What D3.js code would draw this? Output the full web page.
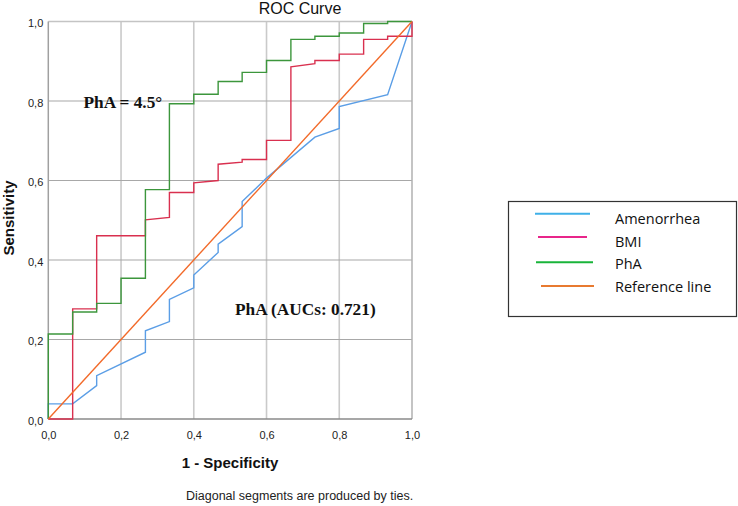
<!DOCTYPE html>
<html><head><meta charset="utf-8">
<script src="https://cdn.jsdelivr.net/npm/d3@7"></script>
<style>body{margin:0;background:#fff}svg{display:block}</style>
</head><body>
<script>
// ---- data ----
const xTicks = [0, 0.2, 0.4, 0.6, 0.8, 1.0];
const yTicks = [0, 0.2, 0.4, 0.6, 0.8, 1.0];
const seriesNames = ["Amenorrhea", "BMI", "PhA", "Reference line"];
const amenorrheaPts = [[0,0],[0,0.038],[0.067,0.038],[0.133,0.084],[0.133,0.109],[0.267,0.168],[0.267,0.222],[0.333,0.245],[0.333,0.301],[0.4,0.330],[0.4,0.362],[0.467,0.419],[0.467,0.440],[0.533,0.484],[0.533,0.547],[0.6,0.606],[0.733,0.709],[0.8,0.731],[0.8,0.786],[0.933,0.816],[1,1]];
const bmiPts = [[0,0],[0.067,0],[0.067,0.277],[0.133,0.277],[0.133,0.461],[0.267,0.461],[0.267,0.501],[0.333,0.507],[0.333,0.570],[0.4,0.570],[0.4,0.594],[0.467,0.600],[0.467,0.641],[0.533,0.646],[0.533,0.653],[0.6,0.653],[0.6,0.701],[0.667,0.701],[0.667,0.886],[0.733,0.894],[0.733,0.902],[0.8,0.902],[0.8,0.918],[0.867,0.918],[0.867,0.955],[0.933,0.955],[0.933,0.963],[1,0.963],[1,1]];
const phaPts = [[0,0],[0,0.214],[0.067,0.214],[0.067,0.269],[0.133,0.269],[0.133,0.291],[0.2,0.291],[0.2,0.354],[0.267,0.354],[0.267,0.577],[0.333,0.577],[0.333,0.793],[0.4,0.793],[0.4,0.817],[0.467,0.817],[0.467,0.849],[0.533,0.849],[0.533,0.872],[0.6,0.872],[0.6,0.902],[0.667,0.902],[0.667,0.955],[0.733,0.955],[0.733,0.963],[0.8,0.963],[0.8,0.971],[0.867,0.971],[0.867,0.995],[0.933,0.995],[0.933,1],[1,1]];
const referencePts = [[0,0],[1,1]];
const lineColors = ["#5b9ee6", "#d9304f", "#3c963c", "#f26a2a"];
const legendColors = ["#3fb0e8", "#e8258a", "#19b43a", "#e87a30"];

// ---- chart ----
const W = 738, H = 506;
const svg = d3.select("body").append("svg").attr("width", W).attr("height", H);
const x = d3.scaleLinear().domain([0, 1]).range([48.3, 412]);
const y = d3.scaleLinear().domain([0, 1]).range([419, 21.5]);
const sans = "'Liberation Sans', Arial, sans-serif";
const serif = "'Liberation Serif', 'Times New Roman', serif";

// grid
svg.append("g").selectAll("line").data(xTicks.slice(1, 5)).join("line")
  .attr("x1", d => x(d)).attr("x2", d => x(d)).attr("y1", y(0)).attr("y2", y(1))
  .attr("stroke", "#cacaca").attr("stroke-width", 1.6);
svg.append("g").selectAll("line").data(yTicks.slice(1, 5)).join("line")
  .attr("x1", x(0)).attr("x2", x(1)).attr("y1", d => y(d)).attr("y2", d => y(d))
  .attr("stroke", "#a8a8a8").attr("stroke-width", 1.2);
// frame
svg.append("line").attr("x1", x(0)).attr("x2", x(1)).attr("y1", y(1)).attr("y2", y(1)).attr("stroke", "#c4c4c4").attr("stroke-width", 1.5);
svg.append("line").attr("x1", x(1)).attr("x2", x(1)).attr("y1", y(0)).attr("y2", y(1)).attr("stroke", "#b0b0b0").attr("stroke-width", 1.5);
svg.append("line").attr("x1", x(0)).attr("x2", x(0)).attr("y1", y(0)).attr("y2", y(1)).attr("stroke", "#a0a0a0").attr("stroke-width", 1.5);
svg.append("line").attr("x1", x(0)).attr("x2", x(1)).attr("y1", y(0)).attr("y2", y(0)).attr("stroke", "#8a8a8a").attr("stroke-width", 1.5);

// axes labels via d3 axes (no domain/ticks)
const fmt = d => d3.format(".1f")(d).replace(".", ",");
const xAxis = svg.append("g").attr("transform", `translate(0,${y(0)})`)
  .call(d3.axisBottom(x).tickValues(xTicks).tickFormat(fmt).tickSize(0).tickPadding(12));
xAxis.select(".domain").remove();
xAxis.selectAll("text").attr("font-family", sans).attr("font-size", 11).attr("fill", "#222");
const yAxis = svg.append("g").attr("transform", `translate(${x(0)},0)`)
  .call(d3.axisLeft(y).tickValues(yTicks).tickFormat(fmt).tickSize(0).tickPadding(5));
yAxis.select(".domain").remove();
yAxis.selectAll("text").attr("font-family", sans).attr("font-size", 11).attr("fill", "#222").attr("dy", "0.85em").attr("y", -4);

// curves
const line = d3.line().x(d => x(d[0])).y(d => y(d[1]));
const allSeries = [amenorrheaPts, bmiPts, phaPts, referencePts];
svg.append("g").selectAll("path").data(allSeries).join("path")
  .attr("d", line).attr("fill", "none")
  .attr("stroke", (d, i) => lineColors[i]).attr("stroke-width", 1.4);

// titles
svg.append("text").attr("x", 300).attr("y", 13.5).attr("text-anchor", "middle")
  .attr("font-family", sans).attr("font-size", 16).attr("fill", "#111").text("ROC Curve");
svg.append("text").attr("x", 230).attr("y", 468).attr("text-anchor", "middle")
  .attr("font-family", sans).attr("font-size", 15).attr("font-weight", "bold").attr("fill", "#111").text("1 - Specificity");
svg.append("text").attr("transform", "translate(13.5,218) rotate(-90)").attr("text-anchor", "middle")
  .attr("font-family", sans).attr("font-size", 15).attr("font-weight", "bold").attr("fill", "#111").text("Sensitivity");
svg.append("text").attr("x", 186).attr("y", 500)
  .attr("font-family", sans).attr("font-size", 12.5).attr("fill", "#222").text("Diagonal segments are produced by ties.");

// annotations
svg.append("text").attr("x", 83.5).attr("y", 108.3)
  .attr("font-family", serif).attr("font-size", 17.3).attr("font-weight", "bold").attr("fill", "#111").text("PhA = 4.5°");
svg.append("text").attr("x", 235).attr("y", 315)
  .attr("font-family", serif).attr("font-size", 17.3).attr("font-weight", "bold").attr("fill", "#111").text("PhA (AUCs: 0.721)");

// legend
const lg = svg.append("g");
lg.append("rect").attr("x", 508.5).attr("y", 201.5).attr("width", 228).attr("height", 115)
  .attr("fill", "#fff").attr("stroke", "#333").attr("stroke-width", 1.2);
const lineY = [213.7, 237, 262.3, 286];
const lineX1 = [535, 538, 536, 541];
const lineX2 = [590, 587, 593, 594];
const textY = [224, 246.7, 269, 291.7];
lg.selectAll("line").data(seriesNames).join("line")
  .attr("x1", (d, i) => lineX1[i]).attr("x2", (d, i) => lineX2[i])
  .attr("y1", (d, i) => lineY[i]).attr("y2", (d, i) => lineY[i])
  .attr("stroke", (d, i) => legendColors[i]).attr("stroke-width", 2);
lg.selectAll("text").data(seriesNames).join("text")
  .attr("x", 615).attr("y", (d, i) => textY[i])
  .attr("font-family", "'Open Sans', 'Noto Sans', sans-serif").attr("font-size", 14.5).attr("fill", "#111")
  .text(d => d);
</script>
</body></html>
